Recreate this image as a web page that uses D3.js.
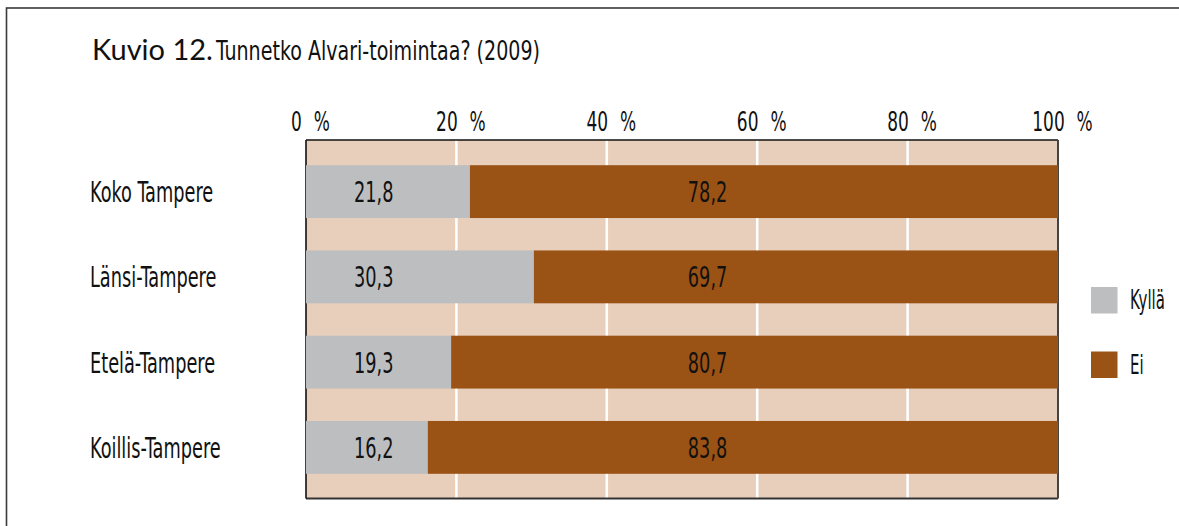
<!DOCTYPE html>
<html><head><meta charset="utf-8">
<script src="https://cdn.jsdelivr.net/npm/d3@7"></script>
<style>
html,body{margin:0;padding:0;background:#fff;}
svg{display:block;}
.nar{font-family:"DejaVu Sans Condensed","DejaVu Sans",sans-serif;fill:#111;}
</style></head>
<body>
<svg id="c" width="1179" height="526"></svg>
<script>
const categories = ["Koko Tampere", "Länsi-Tampere", "Etelä-Tampere", "Koillis-Tampere"];
const seriesNames = ["Kyllä", "Ei"];
const kylla = [21.8, 30.3, 19.3, 16.2];
const ei = [78.2, 69.7, 80.7, 83.8];
const tickValues = [0, 20, 40, 60, 80, 100];
const tickLabels = ["0 %", "20 %", "40 %", "60 %", "80 %", "100 %"];
const colors = ["#bdbec0", "#9b5215"];

(function () {
const svg = d3.select("#c");
const SX = 0.68;

// outer frame
svg.append("rect").attr("x", 6.5).attr("y", 8).attr("width", 1190).attr("height", 540)
  .attr("fill", "none").attr("stroke", "#3a3a3a").attr("stroke-width", 1.6);

// title
svg.append("text").attr("x", 92).attr("y", 60)
  .attr("font-family", "Lato, 'Open Sans', sans-serif").attr("font-size", 29).attr("fill", "#111").text("Kuvio 12.");
svg.append("text").attr("class", "nar").attr("font-size", 27)
  .attr("transform", "translate(216,60) scale(0.785,1)").text("Tunnetko Alvari-toimintaa? (2009)");

const x = d3.scaleLinear().domain([0, 100]).range([306, 1058]);
const y = d3.scaleBand().domain(categories).range([149, 490]).paddingInner(0.38).paddingOuter(0.19);
const plotTop = 140, plotBottom = 498.5;

// plot background
svg.append("rect").attr("x", x(0)).attr("y", plotTop).attr("width", x(100) - x(0)).attr("height", plotBottom - plotTop)
  .attr("fill", "#e7cfbc");

// gridlines
svg.append("g").selectAll("line").data(tickValues.slice(1, -1)).join("line")
  .attr("x1", d => x(d)).attr("x2", d => x(d)).attr("y1", plotTop).attr("y2", plotBottom)
  .attr("stroke", "#fff").attr("stroke-width", 2.5);

// borders
svg.append("line").attr("x1", x(0)).attr("x2", x(100)).attr("y1", plotTop).attr("y2", plotTop).attr("stroke", "#111").attr("stroke-width", 1.6);
svg.append("line").attr("x1", x(0)).attr("x2", x(100)).attr("y1", plotBottom).attr("y2", plotBottom).attr("stroke", "#333").attr("stroke-width", 2);
svg.append("line").attr("x1", x(0)).attr("x2", x(0)).attr("y1", plotTop).attr("y2", plotBottom).attr("stroke", "#111").attr("stroke-width", 1.6);
svg.append("line").attr("x1", x(100)).attr("x2", x(100)).attr("y1", plotTop).attr("y2", plotBottom).attr("stroke", "#444").attr("stroke-width", 2);

// stacked bars
const rows = categories.map((c, i) => ({cat: c, "Kyllä": kylla[i], "Ei": ei[i]}));
const stack = d3.stack().keys(seriesNames)(rows);
svg.append("g").selectAll("g").data(stack).join("g").attr("fill", (d, i) => colors[i])
  .selectAll("rect").data(d => d).join("rect")
  .attr("x", d => x(d[0])).attr("width", d => x(d[1]) - x(d[0]))
  .attr("y", d => y(d.data.cat)).attr("height", y.bandwidth());

// value labels
const labelPos = [9.0, 53.4];
stack.forEach((s, si) => {
  svg.append("g").selectAll("text").data(s).join("text").attr("class", "nar")
    .attr("font-size", 29).attr("text-anchor", "middle")
    .attr("transform", d => `translate(${x(labelPos[si])},${y(d.data.cat) + y.bandwidth() / 2 + 10.5}) scale(${SX},1)`)
    .text(d => d3.format(".1f")(d[1] - d[0]).replace(".", ","));
});

// category labels
svg.append("g").selectAll("text").data(categories).join("text").attr("class", "nar")
  .attr("font-size", 29)
  .attr("transform", d => `translate(90,${y(d) + y.bandwidth() / 2 + 10.5}) scale(${SX},1)`)
  .text(d => d);

// top axis
const axis = d3.axisTop(x).tickValues(tickValues).tickFormat((d, i) => tickLabels[i]).tickSize(0).tickPadding(9.5);
const ag = svg.append("g").attr("transform", `translate(0,${plotTop})`).call(axis);
ag.select(".domain").remove();
ag.attr("font-family", null).attr("font-size", null);
ag.selectAll("text").each(function (d, i) {
  const parts = tickLabels[i].split(" ");
  const t = d3.select(this).attr("class", "nar").attr("font-size", 27).attr("fill", "#111")
    .attr("transform", `translate(4,0) scale(0.70,1)`).text(null);
  t.append("tspan").text(parts[0]);
  t.append("tspan").attr("dx", 17).text(parts[1]);
});

// legend
const lg = svg.append("g").selectAll("g").data(seriesNames).join("g")
  .attr("transform", (d, i) => `translate(1091,${287 + i * 64.5})`);
lg.append("rect").attr("width", 26.5).attr("height", 26.5).attr("fill", (d, i) => colors[i]);
lg.append("text").attr("class", "nar").attr("font-size", 26)
  .attr("transform", `translate(39,22) scale(0.64,1)`).text(d => d);
})();
</script>
</body></html>
